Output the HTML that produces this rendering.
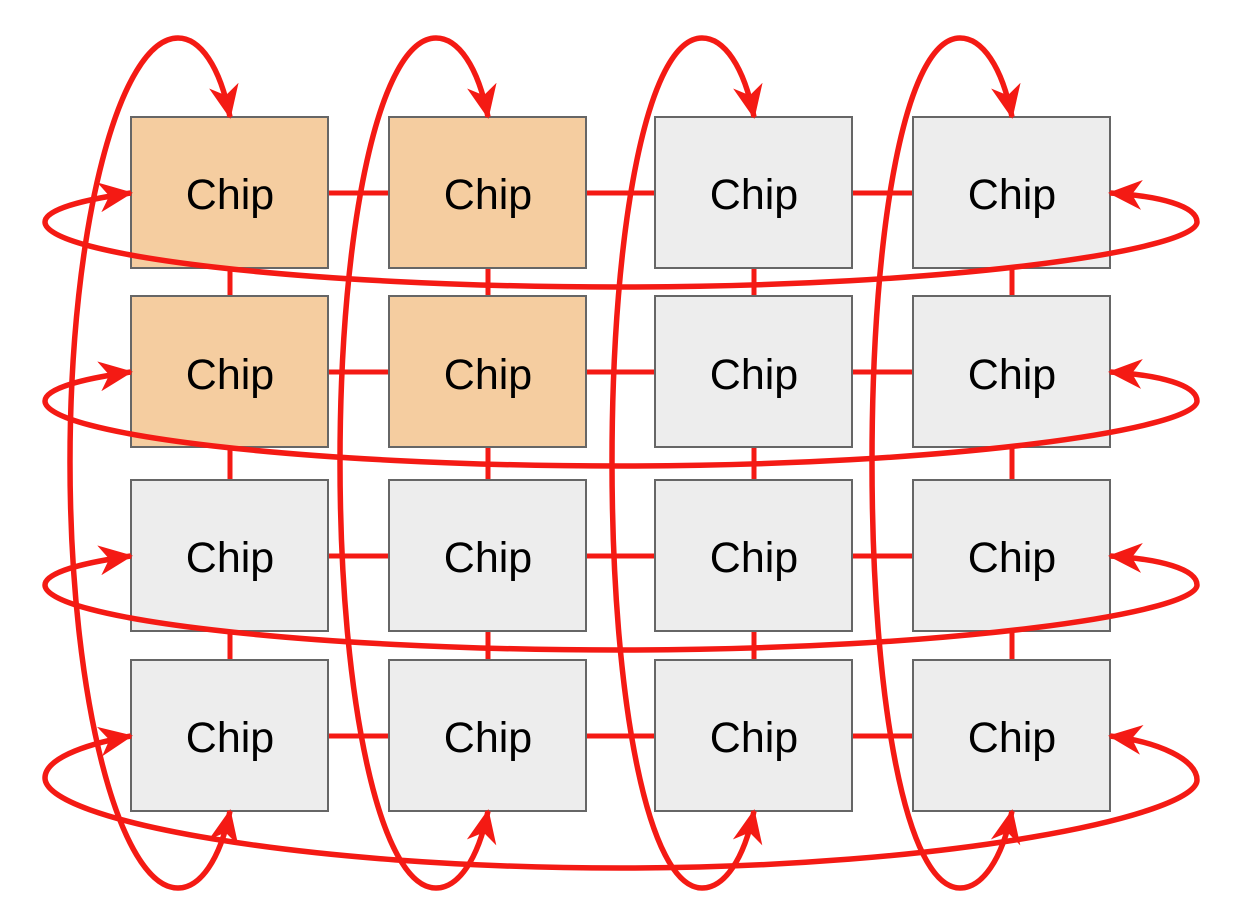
<!DOCTYPE html>
<html><head><meta charset="utf-8"><style>
html,body{margin:0;padding:0;background:#fff;}
svg{display:block;}
text{font-family:"Liberation Sans",Arial,sans-serif;font-size:43px;fill:#000;}
</style></head><body>
<svg width="1233" height="897" viewBox="0 0 1233 897" xmlns="http://www.w3.org/2000/svg">
<defs>
<marker id="a" viewBox="0 0 34 30" refX="32" refY="15" markerWidth="34" markerHeight="30" markerUnits="userSpaceOnUse" orient="auto-start-reverse">
<path d="M0,0 L34,15 L0,30 L10,15 Z" fill="#f41a14"/>
</marker>
</defs>
<g stroke="#f41a14" stroke-width="5" fill="none">
<line x1="328" y1="193" x2="913" y2="193"/>
<line x1="328" y1="372" x2="913" y2="372"/>
<line x1="328" y1="556" x2="913" y2="556"/>
<line x1="328" y1="736" x2="913" y2="736"/>
<line x1="230" y1="268" x2="230" y2="660"/>
<line x1="488" y1="268" x2="488" y2="660"/>
<line x1="754" y1="268" x2="754" y2="660"/>
<line x1="1012" y1="268" x2="1012" y2="660"/>
</g>
<g stroke="#666" stroke-width="2">
<rect x="131" y="117" width="197" height="151" fill="#f5cda0"/>
<rect x="389" y="117" width="197" height="151" fill="#f5cda0"/>
<rect x="655" y="117" width="197" height="151" fill="#ededed"/>
<rect x="913" y="117" width="197" height="151" fill="#ededed"/>
<rect x="131" y="296" width="197" height="151" fill="#f5cda0"/>
<rect x="389" y="296" width="197" height="151" fill="#f5cda0"/>
<rect x="655" y="296" width="197" height="151" fill="#ededed"/>
<rect x="913" y="296" width="197" height="151" fill="#ededed"/>
<rect x="131" y="480" width="197" height="151" fill="#ededed"/>
<rect x="389" y="480" width="197" height="151" fill="#ededed"/>
<rect x="655" y="480" width="197" height="151" fill="#ededed"/>
<rect x="913" y="480" width="197" height="151" fill="#ededed"/>
<rect x="131" y="660" width="197" height="151" fill="#ededed"/>
<rect x="389" y="660" width="197" height="151" fill="#ededed"/>
<rect x="655" y="660" width="197" height="151" fill="#ededed"/>
<rect x="913" y="660" width="197" height="151" fill="#ededed"/>
</g>
<g text-anchor="middle">
<text x="230" y="209">Chip</text><text x="488" y="209">Chip</text><text x="754" y="209">Chip</text><text x="1012" y="209">Chip</text>
<text x="230" y="389">Chip</text><text x="488" y="389">Chip</text><text x="754" y="389">Chip</text><text x="1012" y="389">Chip</text>
<text x="230" y="572">Chip</text><text x="488" y="572">Chip</text><text x="754" y="572">Chip</text><text x="1012" y="572">Chip</text>
<text x="230" y="752">Chip</text><text x="488" y="752">Chip</text><text x="754" y="752">Chip</text><text x="1012" y="752">Chip</text>
</g>
<g stroke="#f41a14" stroke-width="5.5" fill="none" marker-start="url(#a)" marker-end="url(#a)">
<path d="M230,811 C220,860 200,888 178,888 C120,888 70,700 70,462 C70,224 120,38 178,38 C200,38 220,66 230,117"/>
<path d="M488,811 C478,860 458,888 436,888 C380,888 340,700 340,462 C340,224 380,38 436,38 C458,38 478,66 488,117"/>
<path d="M754,811 C744,860 724,888 702,888 C648,888 612,700 612,462 C612,224 648,38 702,38 C724,38 744,66 754,117"/>
<path d="M1012,811 C1002,860 982,888 960,888 C906,888 872,700 872,462 C872,224 906,38 960,38 C982,38 1002,66 1012,117"/>
<path d="M131,193 C80,200 45,210 45,222 C45,255 300,287 620,287 C950,287 1197,250 1197,222 C1197,206 1160,196 1110,193"/>
<path d="M131,372 C80,379 45,389 45,401 C45,434 300,466 620,466 C950,466 1197,429 1197,401 C1197,385 1160,375 1110,372"/>
<path d="M131,556 C80,563 45,573 45,585 C45,618 300,650 620,650 C950,650 1197,613 1197,585 C1197,569 1160,559 1110,556"/>
<path d="M131,736 C80,745 45,760 45,778 C45,820 300,868 620,868 C950,868 1197,815 1197,780 C1197,760 1160,742 1110,736"/>
</g>
</svg>
</body></html>
